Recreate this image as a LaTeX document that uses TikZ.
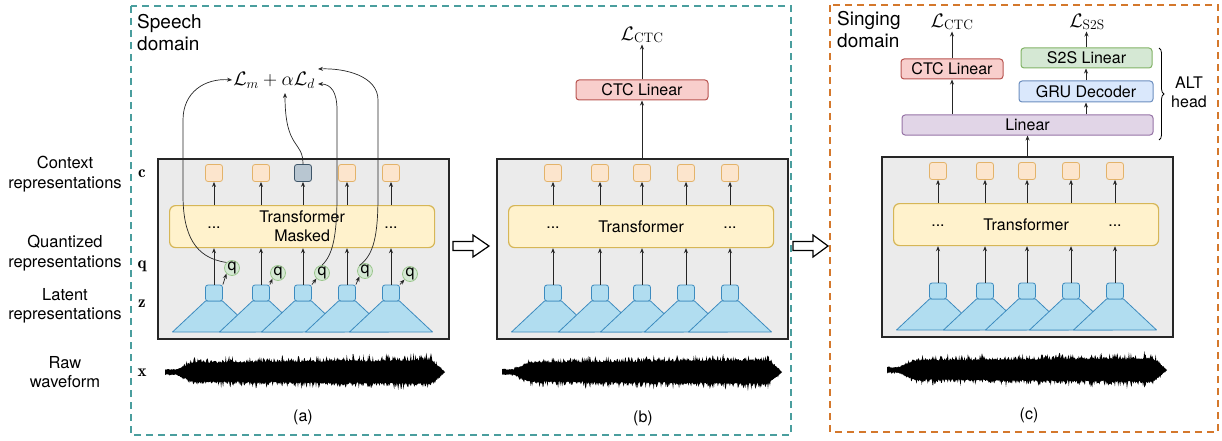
\RequirePackage{fix-cm}
\documentclass[tikz,border=0pt]{standalone}
\usepackage{fontspec}
\setsansfont{TeX Gyre Heros}
\usetikzlibrary{arrows.meta,decorations.pathreplacing,calc}
\definecolor{teald}{HTML}{4A9E9E}
\definecolor{orgd}{HTML}{D4782C}
\definecolor{panelf}{HTML}{EBEBEB}
\definecolor{ctxf}{HTML}{FCE5CD}
\definecolor{ctxd}{HTML}{E3B36A}
\definecolor{ctxgf}{HTML}{B8C6D1}
\definecolor{ctxgd}{HTML}{3E5568}
\definecolor{trf}{HTML}{FFF2CC}
\definecolor{trd}{HTML}{D6B656}
\definecolor{qf}{HTML}{D5E8D4}
\definecolor{qd}{HTML}{9CC78E}
\definecolor{encf}{HTML}{B1DDF0}
\definecolor{encd}{HTML}{3D8BBF}
\definecolor{redf}{HTML}{F8CECC}
\definecolor{redd}{HTML}{B85450}
\definecolor{purf}{HTML}{E1D5E7}
\definecolor{purd}{HTML}{9673A6}
\definecolor{bluf}{HTML}{DAE8FC}
\definecolor{blud}{HTML}{6C8EBF}
\definecolor{grnf}{HTML}{D5E8D4}
\definecolor{grnd}{HTML}{82B366}

\newcommand\drawstack[5]{%
\begin{scope}[shift={(#2,#3)}]
\node[panel,anchor=north west,minimum width=291pt,minimum height=180pt] (#1box) at (157,158) {};
\foreach \xx [count=\i] in {214,261,303,347,391}{
 \draw[trap] (\xx-8.5,301) -- (\xx+8.5,301) -- (\xx+41.5,332) -- (\xx-41.5,332) -- cycle;
 \node[enc] (#1e\i) at (\xx,293) {};
}
\node[trans,anchor=north west,minimum width=265pt,minimum height=42pt] (#1tr) at (169,205) {};
\node[txt,align=center] (#1tt) at (#1tr.center) {#5};
\node[txt] (#1d1) at (214,228) {...};
\node[txt] (#1d2) at (391,228) {...};
\node[ctx] (#1c1) at (214,173) {};
\node[ctx] (#1c2) at (261,173) {};
\node[#4] (#1c3) at (303,173) {};
\node[ctx] (#1c4) at (347,173) {};
\node[ctx] (#1c5) at (391,173) {};
\foreach \i in {1,...,5}{
 \draw[arr] (#1e\i.north) -- (#1e\i.north |- #1tr.south);
 \draw[arr] (#1tr.north -| #1c\i.south) -- (#1c\i.south);
}
\end{scope}}

\newcommand\mywave[4]{%
 \pgfmathsetseed{#4}%
 \fill[black] (#1,#3) -- plot[domain=#1:#2, samples=420] (\x,{#3-wenv((\x-#1)/(#2-#1))*(0.55+0.45*rnd*rnd)}) -- (#2,#3) -- plot[domain=#2:#1, samples=420] (\x,{#3+wenv((\x-#1)/(#2-#1))*(0.55+0.45*rnd*rnd)}) -- cycle;
}

\begin{document}
\begin{tikzpicture}[x=1pt,y=-1pt,
 arr/.style={-{Stealth[length=5pt,width=4pt]},line width=0.7pt,draw=black!85},
 panel/.style={draw=black!85,fill=panelf,line width=1.5pt,inner sep=0},
 ctx/.style={draw=ctxd,fill=ctxf,rounded corners=2.5pt,minimum width=17pt,minimum height=17pt,inner sep=0,line width=0.8pt},
 ctxg/.style={ctx,draw=ctxgd,fill=ctxgf},
 enc/.style={draw=encd,fill=encf,rounded corners=2.5pt,minimum width=17pt,minimum height=16pt,inner sep=0,line width=0.8pt},
 trap/.style={draw=encd,fill=encf,line width=0.8pt,line join=round},
 trans/.style={draw=trd,fill=trf,rounded corners=6pt,line width=1.2pt,inner sep=0},
 qn/.style={circle,draw=qd,fill=qf,minimum size=15pt,inner sep=0,line width=0.8pt,font=\sffamily\fontsize{16}{16}\selectfont},
 head/.style={rounded corners=3pt,line width=1pt,minimum height=20pt,inner sep=0,font=\sffamily\fontsize{16}{19}\selectfont},
 txt/.style={font=\sffamily\fontsize{16}{19}\selectfont,inner sep=0},
 lbl/.style={font=\sffamily\fontsize{16.5}{19.5}\selectfont,align=center,inner sep=0},
 dom/.style={font=\sffamily\fontsize{19}{22}\selectfont,align=left,inner sep=0,anchor=west},
 sym/.style={font=\fontsize{17}{17}\selectfont,inner sep=0,anchor=base},
 loss/.style={font=\fontsize{19.5}{19.5}\selectfont,inner sep=1pt},
 bigarr/.style={draw=black,fill=white,line width=1.2pt,line join=miter},
 declare function={wenv(\u)=(4+12*min(1,max(0,\u-0.04)/0.06)+4*\u)*min(1,(1-\u)/0.05);}
]
\useasboundingbox (0,0) rectangle (1222,441);
% domains
\draw[draw=teald,line width=2pt,dash pattern=on 7pt off 5pt] (131,6) rectangle (791,435);
\draw[draw=orgd,line width=2pt,dash pattern=on 7pt off 5pt] (830,5) rectangle (1218,432);
\node[dom] (spd) at (137,33) {Speech\\domain};
\node[dom] (sgd) at (837,30) {Singing\\domain};

% left labels
\node[lbl] (l1) at (65,174) {Context\\representations};
\node[lbl] (l2) at (65,253) {Quantized\\representations};
\node[lbl] (l3) at (65,306) {Latent\\representations};
\node[lbl] (l4) at (65,372) {Raw\\waveform};
\node[sym] (sc) at (142,177) {$\mathbf{c}$};
\node[sym] (sq) at (142,268) {$\mathbf{q}$};
\node[sym] (sz) at (142,307) {$\mathbf{z}$};
\node[sym] (sx) at (142,376) {$\mathbf{x}$};

% stacks
\drawstack{a}{0}{0}{ctxg}{Transformer\\Masked}
\drawstack{b}{339}{0}{ctx}{Transformer}
\drawstack{c}{724}{-2}{ctx}{Transformer}

% q circles (a)
\node[qn] (q1) at (232,268) {q};
\node[qn] (q2) at (278,273) {q};
\node[qn] (q3) at (322,273) {q};
\node[qn] (q4) at (365,271) {q};
\node[qn] (q5) at (410,274) {q};
\foreach \i in {1,...,5} \draw[arr] (ae\i.north east) -- (q\i.south west);

% loss (a)
\node[loss] (L) at (274,80) {$\mathcal{L}_m+\alpha\mathcal{L}_d$};
\coordinate (tA) at (285,93);
\coordinate (tB) at (318,84);
\coordinate (tC) at (318,69);
\draw[arr] (q1.north west) .. controls (195,258) and (183,235) .. (183,195) -- (183,120) .. controls (183,92) and (205,78) .. (L.west);
\draw[arr] (ac3.north) .. controls (303,140) and (285,150) .. (tA);
\draw[arr] (q3.north) .. controls (333,255) and (337,235) .. (337,195) -- (337,110) .. controls (337,92) and (331,84) .. (tB);
\draw[arr] (q4.north west) .. controls (374,255) and (378,235) .. (378,195) -- (378,100) .. controls (378,76) and (345,68) .. (tC);

% head (b)
\node[head,draw=redd,fill=redf,minimum width=132pt] (bctc) at (642,90) {CTC Linear};
\node[loss] (bL) at (642,35) {$\mathcal{L}_{\mathrm{CTC}}$};
\draw[arr] (bctc.south |- bbox.north) -- (bctc.south);
\draw[arr] (bctc.north) -- (bL.south);

% head (c)
\node[head,draw=purd,fill=purf,minimum width=251pt] (lin) at (1027.5,125) {Linear};
\node[head,draw=redd,fill=redf,minimum width=102pt] (cctc) at (952,69) {CTC Linear};
\node[head,draw=blud,fill=bluf,minimum width=134pt,minimum height=21pt] (gru) at (1086,91.5) {GRU Decoder};
\node[head,draw=grnd,fill=grnf,minimum width=131pt] (s2s) at (1086.5,58) {S2S Linear};
\node[loss] (cL1) at (952,22) {$\mathcal{L}_{\mathrm{CTC}}$};
\node[loss] (cL2) at (1087,22) {$\mathcal{L}_{\mathrm{S2S}}$};
\draw[arr] (lin.south |- cbox.north) -- (lin.south);
\draw[arr] (lin.north -| cctc.south) -- (cctc.south);
\draw[arr] (lin.north -| gru.south) -- (gru.south);
\draw[arr] (gru.north) -- (gru.north |- s2s.south);
\draw[arr] (cctc.north) -- (cctc.north |- cL1.south);
\draw[arr] (s2s.north) -- (s2s.north |- cL2.south);
\draw[line width=0.8pt,decorate,decoration={brace,amplitude=5pt}] (1159,48) -- (1159,140);
\node[txt,align=center] (alt) at (1189,92) {ALT\\head};

% block arrows
\draw[bigarr] (453,241.5) -- (473,241.5) -- (473,235) -- (489,246) -- (473,257) -- (473,250.5) -- (453,250.5) -- cycle;
\draw[bigarr] (793,241.5) -- (813,241.5) -- (813,235) -- (828,246) -- (813,257) -- (813,250.5) -- (793,250.5) -- cycle;

% waveforms
\mywave{165}{445}{372}{11}
\mywave{502}{782}{372}{23}
\mywave{887}{1167}{370}{37}

% captions
\node[txt] (capa) at (303,417) {(a)};
\node[txt] (capb) at (643,418) {(b)};
\node[txt] (capc) at (1029,415) {(c)};
\end{tikzpicture}
\end{document}
